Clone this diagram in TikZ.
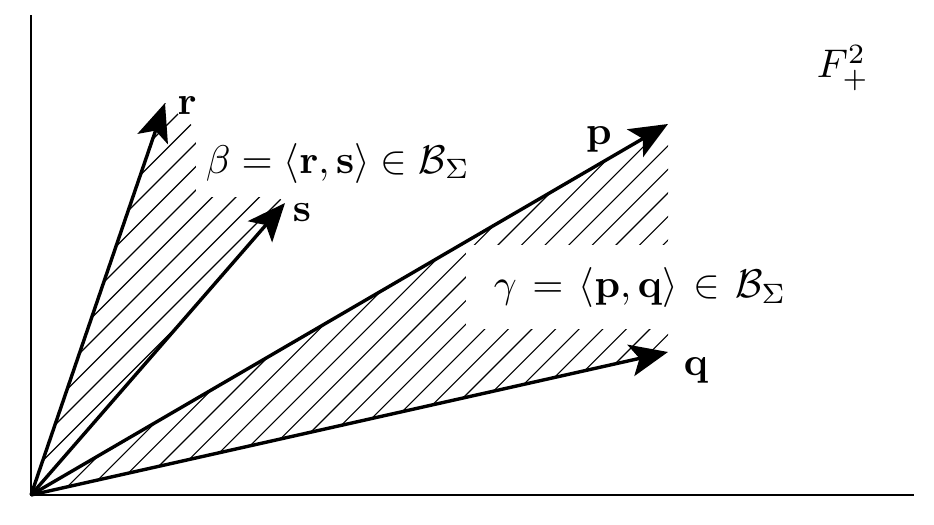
\documentclass[tikz,border=0pt]{standalone}
\usetikzlibrary{arrows.meta}
\begin{document}
\begin{tikzpicture}[x=0.25pt,y=-0.25pt,
  every node/.style={font=\fontsize{10.4}{12.5}\selectfont},
  vec/.style={line width=0.85pt,-{Stealth[length=9.5pt,width=8pt,inset=2.2pt]}},
  axis/.style={line width=0.55pt},
  hatch/.style={line width=0.28pt},
  lab/.style={fill=white,inner xsep=2.5pt,inner ysep=3.6pt,anchor=base west},
  vlab/.style={inner sep=0pt}]
\useasboundingbox (0,0) rectangle (934,525);
\coordinate (O) at (31,495);
\coordinate (R) at (165,103);
\coordinate (S) at (285,203);
\coordinate (P) at (668,124);
\coordinate (Q) at (668,352);
\coordinate (Ytop) at (31,15);
\coordinate (Xend) at (914,495);
% hatching
\begin{scope}
  \clip (O) -- (R) -- (S) -- cycle;
  \foreach \k in {-16,...,12} {
    \pgfmathsetmacro{\c}{386+23.5*\k}
    \draw[hatch] (\c,0) -- (\c-600,600);
  }
\end{scope}
\begin{scope}
  \clip (O) -- (P) -- (Q) -- cycle;
  \foreach \k in {-32,...,20} {
    \pgfmathsetmacro{\c}{743+23.6*\k}
    \draw[hatch] (\c,0) -- (\c-600,600);
  }
\end{scope}
% labels with white boxes
\node[lab] (beta) at (195,173) {$\beta = \langle \mathbf{r},\mathbf{s}\rangle \in \mathcal{B}_\Sigma$};
\node[lab,inner xsep=7pt,inner ysep=5.5pt] (gamma) at (465,297) {$\gamma \mkern2mu= \mkern2mu\langle \mathbf{p},\mathbf{q}\rangle \mkern2mu\in\mkern2mu \mathcal{B}_\Sigma$};
% axes
\draw[axis] (Ytop) -- (O) -- (Xend);
% vectors
\draw[vec] (O) -- (R);
\draw[vec] (O) -- (S);
\draw[vec] (O) -- (P);
\draw[vec] (O) -- (Q);
% vector labels
\node[vlab] (rl) at (187,106) {$\mathbf{r}$};
\node[vlab] (sl) at (302,213) {$\mathbf{s}$};
\node[vlab] (pl) at (599,139) {$\mathbf{p}$};
\node[vlab] (ql) at (696,370) {$\mathbf{q}$};
\node[vlab] (F) at (843,68) {$F^2_+$};
\end{tikzpicture}
\end{document}
